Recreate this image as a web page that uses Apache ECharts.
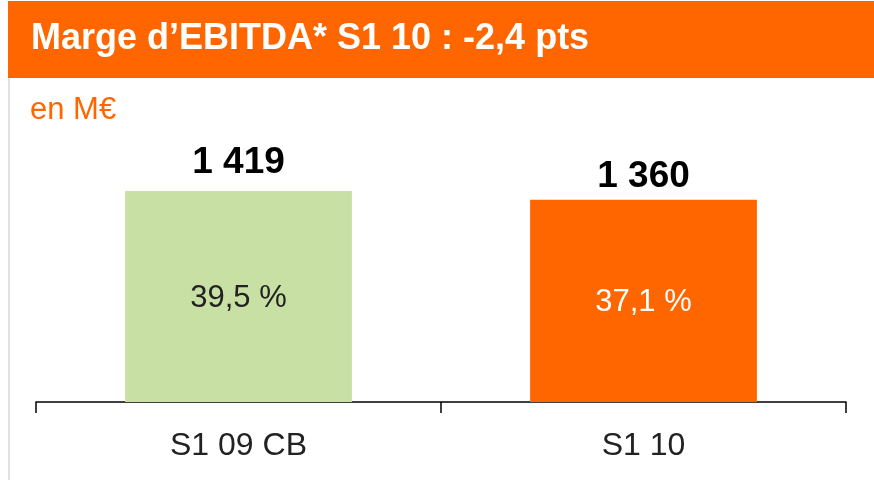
<!DOCTYPE html>
<html>
<head>
<meta charset="utf-8">
<script src="https://cdn.jsdelivr.net/npm/echarts@6/dist/echarts.min.js"></script>
<style>
  html, body { margin: 0; padding: 0; background: #fff; }
  #chart { width: 874px; height: 480px; }
</style>
</head>
<body>
<div id="chart"></div>
<script>
// EBITDA (M€) and EBITDA margin per half-year
const categories = ['S1 09 CB', 'S1 10'];
const ebitda = [1419, 1360];
const marginLabels = ['39,5 %', '37,1 %'];
const barColors = ['#C9E0A5', '#FF6600'];
const insideColors = ['#222222', '#ffffff'];
const valueLabelGap = [10, 4];

const FONT = '"Liberation Sans", Helvetica, Arial, sans-serif';

const chart = echarts.init(document.getElementById('chart'), null, { renderer: 'canvas' });

chart.setOption({
  animation: false,
  textStyle: { fontFamily: FONT },
  graphic: [
    { type: 'rect', shape: { x: 8, y: 1, width: 866, height: 77 }, style: { fill: '#FF6600' } },
    { type: 'rect', shape: { x: 8, y: 78, width: 2, height: 402 }, style: { fill: '#E2E2E2' } },
    { type: 'text', left: 31, top: 21, style: { text: 'Marge d\u2019EBITDA* S1 10 : -2,4 pts', fill: '#ffffff', font: 'bold 36px ' + FONT } },
    { type: 'text', left: 30, top: 95, style: { text: 'en M\u20ac', fill: '#FF6600', font: '31px ' + FONT } }
  ],
  grid: { left: 36, right: 28, top: 164, bottom: 78, containLabel: false },
  xAxis: {
    type: 'category',
    data: categories,
    boundaryGap: true,
    axisLine: { lineStyle: { color: '#000', width: 1.5 } },
    axisTick: { show: true, length: 11, lineStyle: { color: '#000', width: 1.5 } },
    axisLabel: { color: '#222', fontSize: 32, margin: 28, fontFamily: FONT }
  },
  yAxis: { type: 'value', min: 0, max: 1600, show: false, splitLine: { show: false } },
  series: [
    {
      type: 'bar',
      barWidth: '56%',
      data: ebitda.map((v, i) => ({
        value: v,
        itemStyle: { color: barColors[i] },
        label: { distance: valueLabelGap[i] }
      })),
      label: {
        show: true,
        position: 'top',
        color: '#000',
        fontSize: 37,
        fontWeight: 'bold',
        fontFamily: FONT,
        formatter: p => String(p.value).replace(/\B(?=(\d{3})+(?!\d))/g, ' ')
      },
      z: 2
    },
    {
      type: 'bar',
      barWidth: '56%',
      barGap: '-100%',
      data: ebitda.map((v, i) => ({
        value: v,
        itemStyle: { color: 'transparent' },
        label: { color: insideColors[i] }
      })),
      label: {
        show: true,
        position: 'inside',
        offset: [0, 2],
        fontSize: 31,
        fontFamily: FONT,
        formatter: p => marginLabels[p.dataIndex]
      },
      silent: true,
      z: 3
    }
  ]
});
</script>
</body>
</html>
